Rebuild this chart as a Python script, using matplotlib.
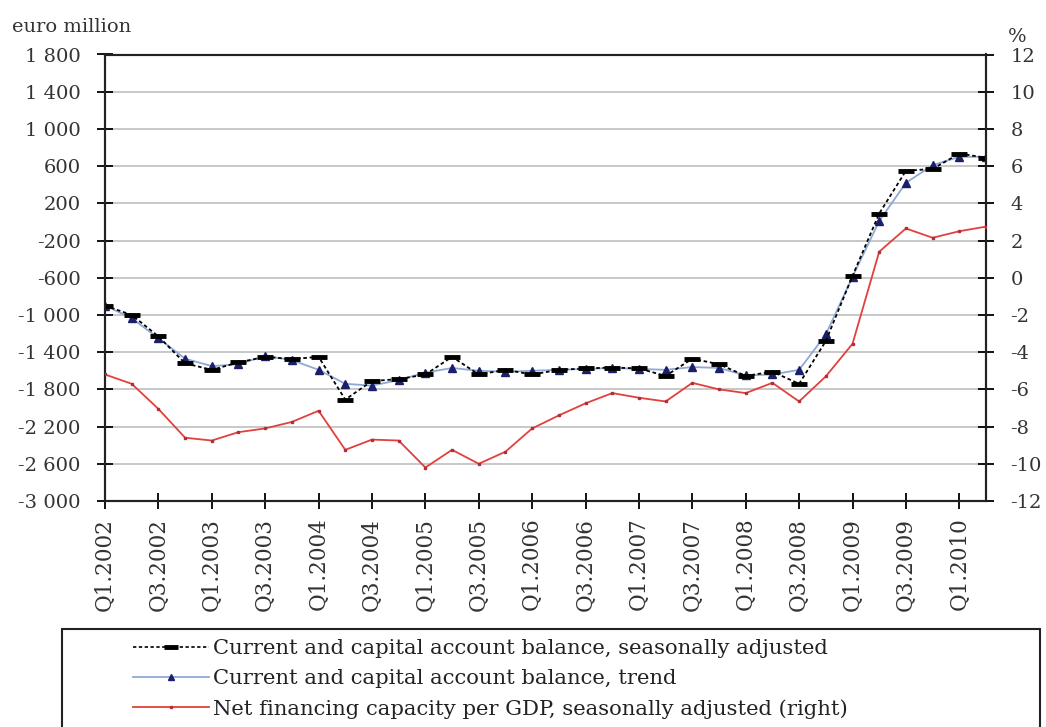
import matplotlib
matplotlib.use("Agg")
import matplotlib.pyplot as plt
from matplotlib.ticker import FixedLocator, FuncFormatter
from matplotlib.lines import Line2D
from matplotlib.patches import Rectangle

# ---------------- data ----------------
years = list(range(2002, 2011))
quarters = [f"Q{q}.{y}" for y in years for q in (1, 2, 3, 4)][:34]  # Q1.2002 .. Q2.2010

sa_balance = [-900, -1000, -1230, -1520, -1590, -1510, -1450, -1475, -1450, -1910,
              -1710, -1690, -1640, -1450, -1640, -1590, -1640, -1590, -1575, -1565,
              -1575, -1655, -1470, -1530, -1655, -1610, -1740, -1280, -580, 90,
              550, 570, 735, 690]

trend_balance = [-900, -1035, -1250, -1470, -1550, -1530, -1440, -1485, -1590, -1740,
                 -1760, -1700, -1620, -1570, -1600, -1610, -1600, -1590, -1580, -1570,
                 -1580, -1590, -1560, -1570, -1650, -1640, -1590, -1210, -590, 10,
                 420, 610, 700, 700]

net_fin_gdp = [-5.2, -5.7, -7.05, -8.6, -8.75, -8.3, -8.1, -7.75, -7.15, -9.25,
               -8.7, -8.75, -10.2, -9.25, -10.0, -9.35, -8.1, -7.4, -6.75, -6.2,
               -6.45, -6.65, -5.65, -6.0, -6.2, -5.65, -6.65, -5.3, -3.55, 1.4,
               2.65, 2.15, 2.5, 2.75]

left_ticks = [-3000, -2600, -2200, -1800, -1400, -1000, -600, -200, 200, 600, 1000, 1400, 1800]
right_ticks = [-12, -10, -8, -6, -4, -2, 0, 2, 4, 6, 8, 10, 12]

labels = ["Current and capital account balance, seasonally adjusted",
          "Current and capital account balance, trend",
          "Net financing capacity per GDP, seasonally adjusted (right)"]

# ---------------- figure ----------------
W, H = 1046, 727
fig = plt.figure(figsize=(W / 100, H / 100), dpi=100)
plt.rcParams['font.family'] = ['DejaVu Serif']
FS = 14
TXT = "#333333"

L, R, T, B = 105, 986, 54.5, 501
ax = fig.add_axes([L / W, 1 - B / H, (R - L) / W, (B - T) / H])
ax2 = ax.twinx()

x = list(range(len(quarters)))

red_c = "#e2403c"
trend_line_c = "#8ea9d6"
trend_mark_c = "#1b1f6b"

ax.plot(x, trend_balance, color=trend_line_c, lw=1.3, marker='^', ms=5.5,
        mfc=trend_mark_c, mec=trend_mark_c, zorder=3)
ax.plot(x, sa_balance, color="black", lw=1.3, ls=(0, (2, 1.5)), marker='_', ms=12,
        mew=3.5, mec="black", zorder=4)
ax2.plot(x, net_fin_gdp, color=red_c, lw=1.3, marker='s', ms=2, mfc="#b0303a",
         mec="#b0303a", zorder=3)

ax.set_xlim(0, len(quarters) - 1)
ax.set_ylim(-3000, 1800)
ax2.set_ylim(-12, 12)

ax.yaxis.set_major_locator(FixedLocator(left_ticks))
ax2.yaxis.set_major_locator(FixedLocator(right_ticks))


def fmt_thousands(v, pos=None):
    s = f"{abs(int(round(v))):,}".replace(",", " ")
    return ("-" if v < 0 else "") + s


ax.yaxis.set_major_formatter(FuncFormatter(fmt_thousands))
ax2.yaxis.set_major_formatter(FuncFormatter(lambda v, p: ("-" if v < 0 else "") + str(abs(int(v)))))

xt = list(range(0, len(quarters), 2))
ax.set_xticks(xt)
ax.set_xticklabels([quarters[i] for i in xt], rotation=90, fontsize=15.5, color=TXT)

ax.grid(axis='y', color="#c8c8c8", lw=1.4)
ax.set_axisbelow(True)

for a in (ax, ax2):
    for s in a.spines.values():
        s.set_color("#222222")
        s.set_linewidth(1.5)

ax.tick_params(axis='y', direction='inout', length=11, width=1.3, pad=12, labelsize=FS,
               labelcolor=TXT)
ax2.tick_params(axis='y', direction='inout', length=11, width=1.3, pad=12, labelsize=FS,
                labelcolor=TXT)
ax.tick_params(axis='x', direction='inout', length=12, width=1.3, pad=6)

fig.text(12 / W, 1 - 27 / H, "euro million", fontsize=FS, va='center', ha='left', color=TXT)
fig.text(1008 / W, 1 - 37 / H, "%", fontsize=FS, va='center', ha='left', color=TXT)

# legend box
fig.patches.append(Rectangle((62 / W, -0.01), (1040 - 62) / W, 1 - 629 / H + 0.01,
                             transform=fig.transFigure, fill=False, ec="#222222", lw=1.5))

handles = [
    Line2D([], [], color="black", lw=1.2, ls=(0, (2, 1.5)), marker='_', ms=10, mew=3.5),
    Line2D([], [], color=trend_line_c, lw=1.3, marker='^', ms=5, mfc=trend_mark_c, mec=trend_mark_c),
    Line2D([], [], color=red_c, lw=1.3, marker='s', ms=2, mfc="#b0303a", mec="#b0303a"),
]
fig.legend(handles, labels, loc='upper left', bbox_to_anchor=(133 / W, 1 - 639 / H),
           frameon=False, fontsize=15.2, borderpad=0, borderaxespad=0, handlelength=3.6,
           handletextpad=0.2, labelspacing=0.52, labelcolor="#222222")

fig.savefig("out.png", dpi=100)
